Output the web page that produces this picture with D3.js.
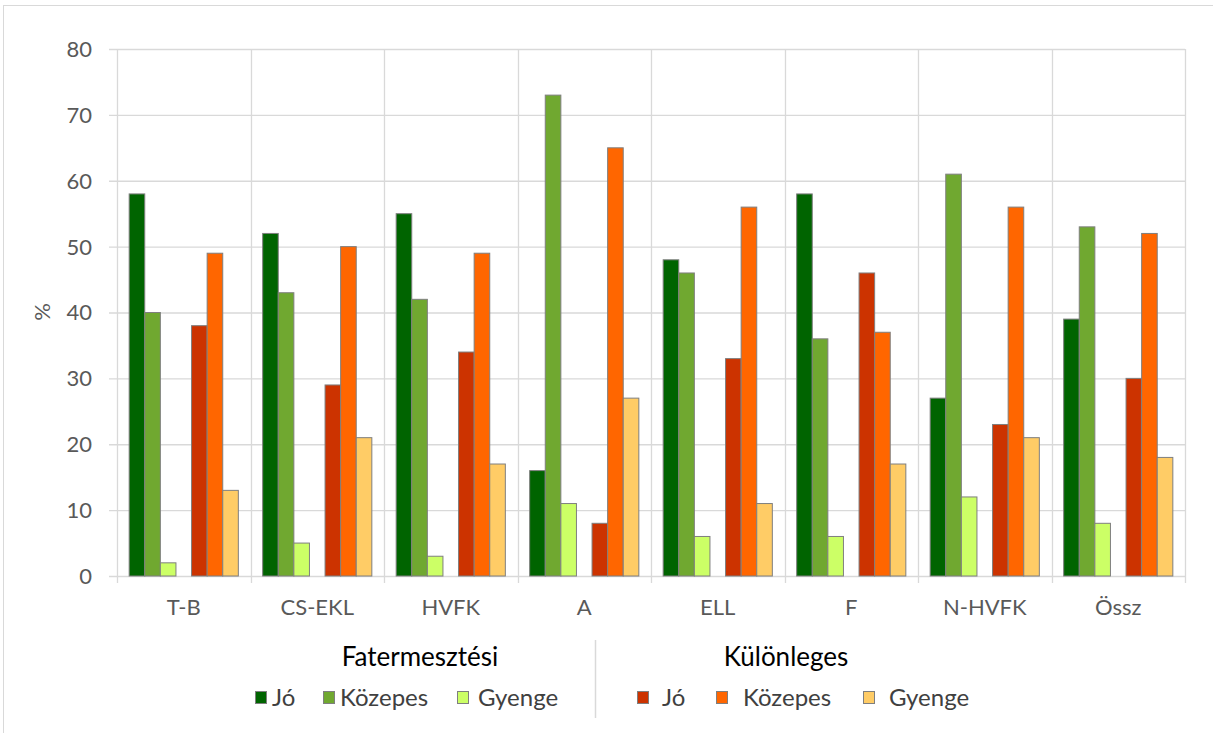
<!DOCTYPE html>
<html><head><meta charset="utf-8">
<script src="https://cdn.jsdelivr.net/npm/d3@7"></script>
<style>body{margin:0;background:#fff}svg{display:block;font-family:Lato,"Open Sans",sans-serif}</style>
</head><body><svg id="c" width="1213" height="733"></svg>
<script>
const categories = ["T-B","CS-EKL","HVFK","A","ELL","F","N-HVFK","Össz"];
const fatJo = [58,52,55,16,48,58,27,39];
const fatKoz = [40,43,42,73,46,36,61,53];
const fatGy = [2,5,3,11,6,6,12,8];
const kulJo = [38,29,34,8,33,46,23,30];
const kulKoz = [49,50,49,65,56,37,56,52];
const kulGy = [13,21,17,27,11,17,21,18];
const yTicks = [0,10,20,30,40,50,60,70,80];
const seriesNames = ["Jó","Közepes","Gyenge","Jó","Közepes","Gyenge"];
const groupNames = ["Fatermesztési","Különleges"];
const colors = ["#006400","#70a830","#ccff66","#cc3300","#ff6600","#ffcc66"];
const seriesVals = [fatJo,fatKoz,fatGy,kulJo,kulKoz,kulGy];
const slots = [0,1,2,4,5,6];

const svg = d3.select("#c");
svg.append("rect").attr("x",3.5).attr("y",5.5).attr("width",1212).attr("height",730).attr("fill","#fff").attr("stroke","#d9d9d9");
const L=117,R=1185,T=49,B=576;
const x = d3.scaleBand().domain(categories).range([L,R]);
const y = d3.scaleLinear().domain([0,80]).range([B,T]);
const inner = d3.scaleBand().domain(d3.range(7)).range([0,x.bandwidth()]).paddingOuter(0.78).paddingInner(0);

const g = svg.append("g");
g.selectAll(".hg").data(yTicks).join("line").attr("x1",L-8).attr("x2",R).attr("y1",d=>y(d)+0.5).attr("y2",d=>y(d)+0.5).attr("stroke","#d9d9d9").attr("stroke-width",1.3);
const bounds = categories.map(c=>x(c)).concat([R]);
g.selectAll(".vg").data(bounds).join("line").attr("x1",d=>Math.round(d)+0.5).attr("x2",d=>Math.round(d)+0.5).attr("y1",T).attr("y2",B+7).attr("stroke","#d9d9d9").attr("stroke-width",1.3);

seriesVals.forEach((vals,si)=>{
  g.selectAll(".b"+si).data(vals).join("rect")
    .attr("x",(d,i)=>x(categories[i])+inner(slots[si]))
    .attr("width",inner.bandwidth())
    .attr("y",d=>y(d)).attr("height",d=>B-y(d))
    .attr("fill",colors[si]).attr("stroke","#7f7f7f").attr("stroke-width",1);
});

svg.selectAll(".yt").data(yTicks).join("text").attr("x",92).attr("y",d=>y(d)).attr("dy","0.36em").attr("text-anchor","end").attr("font-size",22).attr("fill","#595959").text(d=>d);
svg.selectAll(".xt").data(categories).join("text").attr("x",d=>x(d)+x.bandwidth()/2).attr("y",615).attr("text-anchor","middle").attr("font-size",22).attr("fill","#595959").text(d=>d);
svg.append("text").attr("transform","translate(50,312) rotate(-90)").attr("text-anchor","middle").attr("font-size",22).attr("fill","#595959").text("%");

const gx=[420,786];
groupNames.forEach((n,i)=>svg.append("text").attr("x",gx[i]).attr("y",666).attr("text-anchor","middle").attr("font-size",26).attr("fill","#000").text(n));
svg.append("line").attr("x1",595.5).attr("x2",595.5).attr("y1",640).attr("y2",718).attr("stroke","#d9d9d9").attr("stroke-width",1.5);
const sq=[255,323,457,637,716,863];
const tx=[272,340,478,662,743,889];
seriesNames.forEach((n,i)=>{
  svg.append("rect").attr("x",sq[i]+0.5).attr("y",691.5).attr("width",11).attr("height",12).attr("fill",colors[i]).attr("stroke","#7f7f7f");
  svg.append("text").attr("x",tx[i]).attr("y",706).attr("font-size",24).attr("fill","#404040").text(n);
});
</script></body></html>
